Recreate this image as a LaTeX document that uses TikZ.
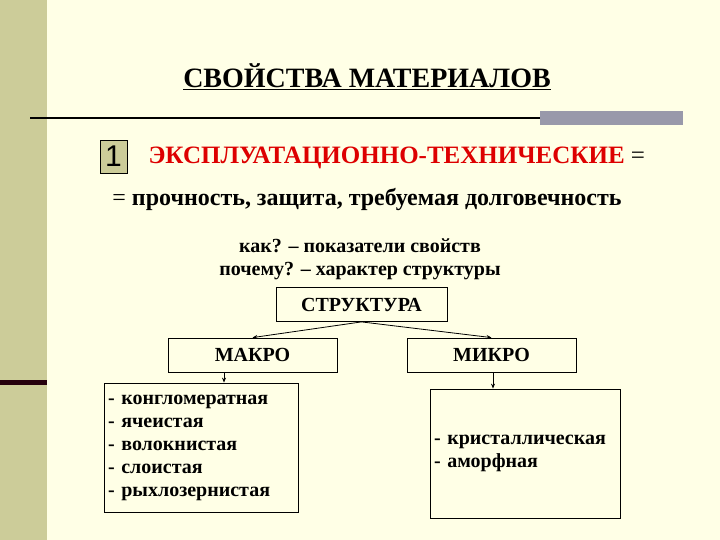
\documentclass[tikz,border=0pt]{standalone}
\usepackage{fontspec}
\setmainfont{Liberation Serif}
\newfontfamily\sansf{Liberation Sans}
\usetikzlibrary{arrows.meta}
\definecolor{bg}{HTML}{FFFFE6}
\definecolor{olive}{HTML}{CCCC99}
\definecolor{bar}{HTML}{9999AA}
\definecolor{dred}{HTML}{DD0000}
\begin{document}
\begin{tikzpicture}[x=1pt,y=-1pt,
  bx/.style={draw,line width=0.8pt,minimum height=34pt,inner sep=0pt,font=\fontsize{20}{22}\selectfont\bfseries},
  lst/.style={draw,line width=0.8pt,inner sep=0pt,align=left,font=\fontsize{20}{23}\selectfont\bfseries},
  arr/.style={-{Stealth[length=5pt,width=4pt]},line width=0.8pt}]
\fill[bg] (0,0) rectangle (720,540);
\useasboundingbox (0,0) rectangle (720,540);
\fill[olive] (0,0) rectangle (47,540);
\fill[black!80!purple] (0,380) rectangle (47,385);
\draw[line width=1.5pt] (30,118) -- (540,118);
\fill[bar] (540,111) rectangle (683,125);
\node (title) at (367,77) {\fontsize{28}{30}\selectfont\bfseries\underline{СВОЙСТВА МАТЕРИАЛОВ}};
\node[draw,fill=olive,minimum width=27pt,minimum height=33pt,inner sep=0pt] (one) at (113.5,156.5) {\sansf\fontsize{30}{30}\selectfont 1};
\node[anchor=west,text=dred] (red) at (145,158) {\fontsize{25}{28}\selectfont\bfseries ЭКСПЛУАТАЦИОННО-ТЕХНИЧЕСКИЕ \textcolor{black}{\mdseries=}};
\node (l2) at (367,200) {\fontsize{24}{28}\selectfont\bfseries \mdseries= \bfseries прочность, защита, требуемая долговечность};
\node (q1) at (360,246) {\fontsize{20}{22}\selectfont\bfseries как? – показатели свойств};
\node (q2) at (360,271) {\fontsize{20}{22}\selectfont\bfseries почему? – характер структуры};
\node[bx,minimum width=171pt] (s) at (361.5,304.5) {СТРУКТУРА};
\node[bx,minimum width=169pt] (ma) at (252.5,355) {МАКРО};
\node[bx,minimum width=169pt] (mi) at (491.5,355) {МИКРО};
\node[lst,minimum width=194pt,minimum height=129pt,text width=186pt] (ml) at (201,447.5) {- конгломератная\\- ячеистая\\- волокнистая\\- слоистая\\- рыхлозернистая};
\node[lst,minimum width=190pt,minimum height=129pt,text width=182pt] (mr) at (525,453.5) {- кристаллическая\\- аморфная};
\draw[arr] (s.south) -- (ma.north);
\draw[arr] (s.south) -- (mi.north);
\draw[arr] (ma.south -| 224,0) -- (ml.north -| 224,0);
\draw[arr] (mi.south -| 493,0) -- (mr.north -| 493,0);
\end{tikzpicture}
\end{document}
